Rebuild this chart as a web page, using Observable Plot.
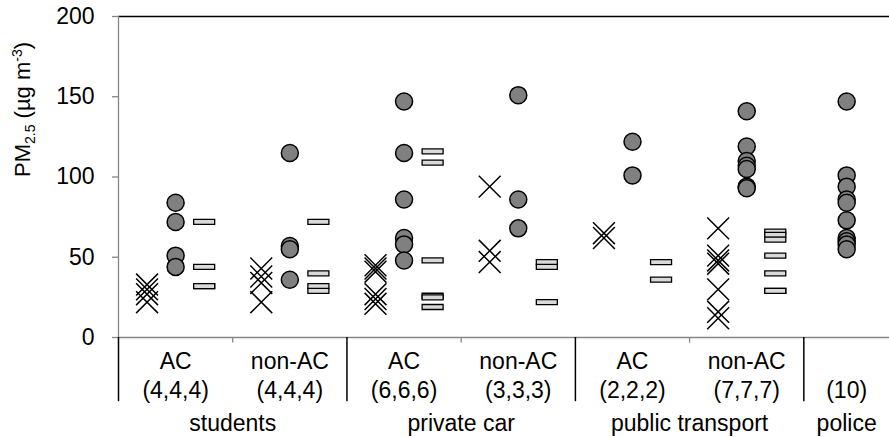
<!DOCTYPE html>
<html>
<head>
<meta charset="utf-8">
<script src="https://cdn.jsdelivr.net/npm/d3@7"></script>
<script src="https://cdn.jsdelivr.net/npm/@observablehq/plot@0.6"></script>
<style>
  html, body { margin: 0; padding: 0; background: #fff; }
  #chart svg { display: block; overflow: visible; }
</style>
</head>
<body>
<div id="chart"></div>
<script>
// ---- data ----
const groupLabels = ["students", "private car", "public transport", "police"];
const groupOfCategory = [0, 0, 1, 1, 2, 2, 3];
const subLabels = ["AC", "non-AC", "AC", "non-AC", "AC", "non-AC", ""];
const countLabels = ["(4,4,4)", "(4,4,4)", "(6,6,6)", "(3,3,3)", "(2,2,2)", "(7,7,7)", "(10)"];
const categoryWidths = [4, 4, 4, 4, 4, 4, 3];

const crossValues = [
  [33, 30, 27, 22],
  [43, 38, 34, 22],
  [45, 43, 41, 27, 24, 21],
  [94, 54, 47],
  [65, 62],
  [68, 51, 48, 46, 30, 16, 12],
  []
];
const circleValues = [
  [84, 72, 51, 44],
  [115, 57, 55, 36],
  [147, 115, 86, 62, 58, 48],
  [151, 86, 68],
  [122, 101],
  [141, 119, 110, 107, 105, 94, 93],
  [147, 101, 94, 86, 84, 73, 62, 60, 58, 55]
];
const dashValues = [
  [72, 44, 32, 32],
  [72, 40, 32, 29],
  [116, 109, 48, 26, 25, 19],
  [47, 44, 22],
  [47, 36],
  [66, 64, 61, 51, 40, 29, 29],
  []
];
const yTicks = [0, 50, 100, 150, 200];
const yLabel = "PM2.5 (µg m-3)";

// ---- derived layout from category widths ----
const starts = categoryWidths.map((w, i) => d3.sum(categoryWidths.slice(0, i)));
const centers = starts.map((s, i) => s + categoryWidths[i] / 2);
const xMax = d3.sum(categoryWidths);
const majorBounds = starts.filter((s, i) => i === 0 || groupOfCategory[i] !== groupOfCategory[i - 1]);
const minorBounds = starts.filter((s, i) => i > 0 && groupOfCategory[i] === groupOfCategory[i - 1]);

function flatten(values, offset) {
  const out = [];
  values.forEach((vals, i) => vals.forEach(v => out.push({x: centers[i] + offset, y: v})));
  return out;
}
const crosses = flatten(crossValues, -1);
const circles = flatten(circleValues, 0);
const dashes = flatten(dashValues, 1);

const catTable = subLabels.map((s, i) => ({x: centers[i], sub: s, count: countLabels[i]}));
const groupTable = groupLabels.map((g, gi) => {
  const idx = groupOfCategory.map((gg, i) => gg === gi ? i : -1).filter(i => i >= 0);
  const a = starts[idx[0]], b = starts[idx[idx.length - 1]] + categoryWidths[idx[idx.length - 1]];
  return {x: (a + b) / 2, label: g};
});

const dashSymbol = {
  draw(ctx) {
    ctx.moveTo(-10.5, -2.5); ctx.lineTo(10.5, -2.5); ctx.lineTo(10.5, 2.5); ctx.lineTo(-10.5, 2.5); ctx.closePath();
  }
};

const FONT = "'Liberation Sans', Arial, Helvetica, sans-serif";
const FS = 23;

const chart = Plot.plot({
  width: 889,
  height: 437,
  marginLeft: 118,
  marginRight: 0,
  marginTop: 16,
  marginBottom: 100,
  x: {domain: [0, xMax], axis: null},
  y: {domain: [0, 200], axis: null},
  style: {fontFamily: FONT, fontSize: FS + "px", background: "#fff", color: "#000"},
  marks: [
    Plot.ruleY([200], {stroke: "#000", strokeWidth: 1.5}),
    Plot.ruleX([0], {stroke: "#868686", strokeWidth: 1.3}),
    Plot.ruleY([0], {stroke: "#868686", strokeWidth: 1.3}),
    Plot.axisY({ticks: yTicks, tickSize: 6, tickFormat: () => "", stroke: "#868686", strokeWidth: 1.3, label: null}),
    Plot.text(yTicks, {x: 0, y: d => d, text: d => String(d), textAnchor: "end", dx: -24, fontSize: FS, fill: "#000"}),
    Plot.ruleX(minorBounds, {y1: 0, y2: -3.5, stroke: "#868686", strokeWidth: 1.3}),
    Plot.ruleX(majorBounds, {y1: 0, y2: -40, stroke: "#000", strokeWidth: 1.5}),
    Plot.dot(crosses, {x: "x", y: "y", symbol: "times", r: 10, stroke: "#000", strokeWidth: 1.5}),
    Plot.dot(circles, {x: "x", y: "y", r: 8.5, fill: "#808080", stroke: "#000", strokeWidth: 1.5}),
    Plot.dot(dashes, {x: "x", y: "y", symbol: dashSymbol, r: 5, fill: "#d9d9d9", stroke: "#000", strokeWidth: 1.3}),
    Plot.text(catTable, {x: "x", y: 0, text: "sub", dy: 31.5, lineAnchor: "bottom", fontSize: FS, fill: "#000"}),
    Plot.text(catTable, {x: "x", y: 0, text: "count", dy: 60.5, lineAnchor: "bottom", fontSize: FS, fill: "#000"}),
    Plot.text(groupTable, {x: "x", y: 0, text: "label", dy: 93, lineAnchor: "bottom", fontSize: FS, fill: "#000"}),
    Plot.text([yLabel], {frameAnchor: "left", rotate: -90, dx: -96, text: d => d, fontSize: FS - 1, fill: "#000", lineAnchor: "middle"})
  ]
});

// rich text for the axis title (subscript / superscript)
const NS = "http://www.w3.org/2000/svg";
chart.querySelectorAll("text").forEach(t => {
  if (t.textContent === yLabel) {
    while (t.firstChild) t.removeChild(t.firstChild);
    const parts = [
      {s: "PM"},
      {s: "2.5", fs: 14, dy: 5},
      {s: " (µg m", dy: -5},
      {s: "-3", fs: 14, dy: -8},
      {s: ")", dy: 8}
    ];
    parts.forEach(p => {
      const ts = document.createElementNS(NS, "tspan");
      ts.textContent = p.s;
      if (p.fs) ts.setAttribute("font-size", p.fs);
      if (p.dy) ts.setAttribute("dy", p.dy);
      t.appendChild(ts);
    });
  }
});

document.getElementById("chart").appendChild(chart);
</script>
</body>
</html>
